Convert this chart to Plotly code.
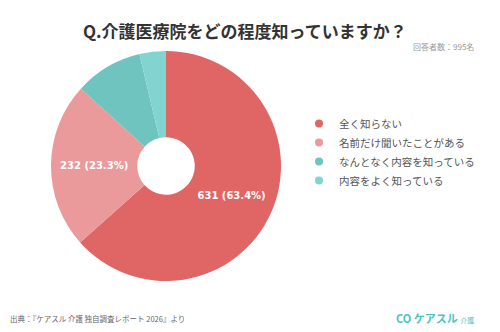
import plotly.graph_objects as go

labels = ["全く知らない", "名前だけ聞いたことがある", "なんとなく内容を知っている", "内容をよく知っている"]
values = [631, 232, 95, 37]
colors = ["#E06565", "#EA9A9A", "#6FC4C0", "#82D4D0"]
show_label = [True, True, False, False]

total = sum(values)
texts = [f"{v} ({v/total*100:.1f}%)" if s else "" for v, s in zip(values, show_label)]

FONT = "Noto Sans CJK JP"

fig = go.Figure()
fig.add_trace(go.Pie(
    labels=labels, values=values, text=texts, textinfo="text",
    sort=False, direction="clockwise", rotation=0, hole=0.25,
    marker=dict(colors=colors, line=dict(color="white", width=0)),
    textposition="inside", insidetextorientation="horizontal",
    textfont=dict(color="white", size=10, family="DejaVu Sans", weight="bold"),
    domain=dict(x=[0.102, 0.562], y=[0.1536, 0.8464]),
    showlegend=False, hoverinfo="label+value+percent",
))
for lab, col in zip(labels, colors):
    fig.add_trace(go.Scatter(x=[None], y=[None], mode="markers", name=lab,
                             marker=dict(color=col, size=8, symbol="circle")))

fig.update_layout(
    width=500, height=332, margin=dict(l=0, r=0, t=0, b=0),
    paper_bgcolor="white", plot_bgcolor="white",
    font=dict(family=FONT),
    xaxis=dict(visible=False), yaxis=dict(visible=False),
    legend=dict(x=0.598, y=0.672, xanchor="left", yanchor="top",
                font=dict(size=10.5, color="#555555", family=FONT),
                itemwidth=30, tracegroupgap=0, bgcolor="rgba(0,0,0,0)"),
    annotations=[
        dict(text="<b>Q.介護医療院をどの程度知っていますか？</b>", x=0.49, y=1 - 30/332,
             xref="paper", yref="paper", showarrow=False, xanchor="center", yanchor="middle",
             font=dict(size=17, color="#333333", family=FONT)),
        dict(text="回答者数：995名", x=0.952, y=1 - 47/332, xref="paper", yref="paper",
             showarrow=False, xanchor="right", yanchor="middle",
             font=dict(size=8, color="#999999", family=FONT)),
        dict(text="出典：『ケアスル 介護 独自調査レポート 2026』より", x=8/500, y=1 - 318/332,
             xref="paper", yref="paper", showarrow=False, xanchor="left", yanchor="middle",
             font=dict(size=7.5, color="#666666", family=FONT)),
        dict(text="<b>CO</b> <b>ケアスル</b> <span style='font-size:7px'>介護</span>",
             x=476/500, y=1 - 318/332, xref="paper", yref="paper", showarrow=False,
             xanchor="right", yanchor="middle",
             font=dict(size=11, color="#4CC3C0", family=FONT)),
    ],
)

fig.write_html("out.html")
